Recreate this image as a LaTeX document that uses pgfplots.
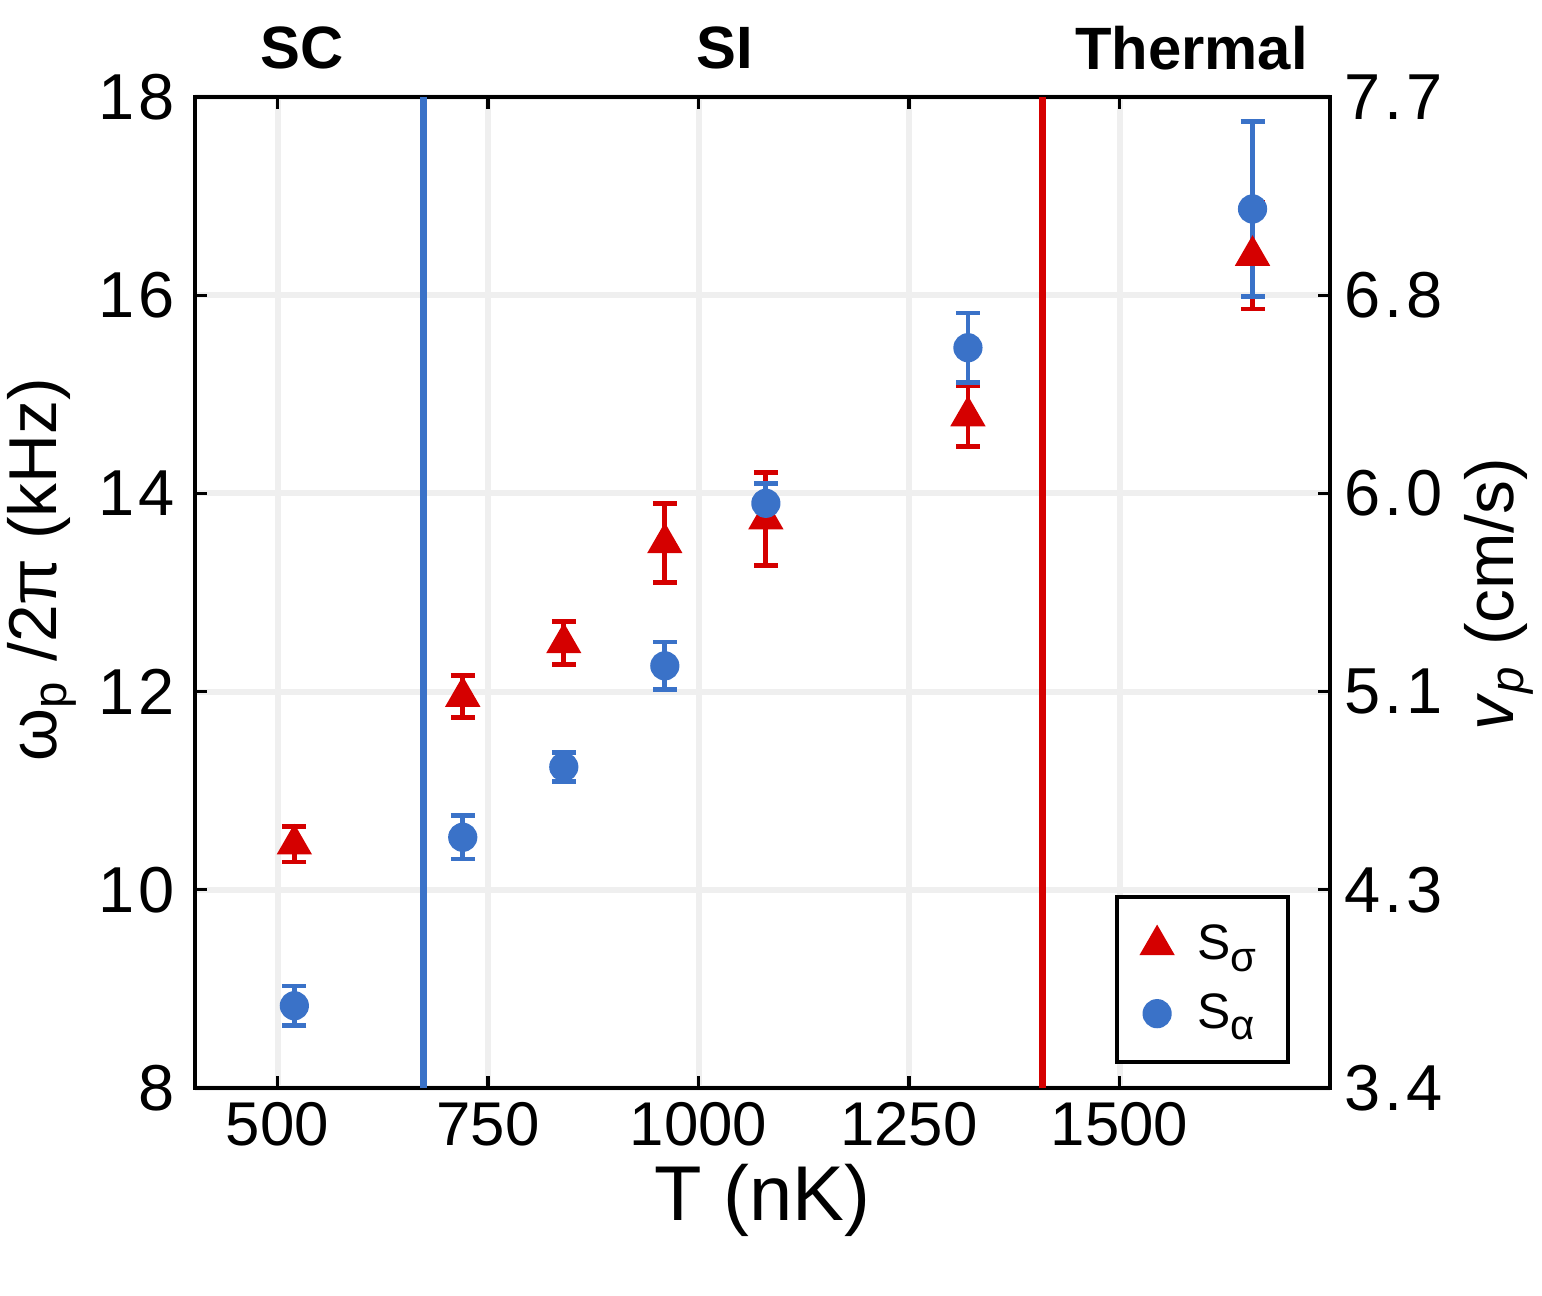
\documentclass[border=0pt]{standalone}
\usepackage{fontspec}
\setmainfont{Liberation Sans}
\usepackage{pgfplots}
\pgfplotsset{compat=1.18}
\definecolor{myred}{HTML}{D50000}
\definecolor{myblue}{HTML}{3A72C8}
\definecolor{gridgray}{HTML}{EFEFEF}
\newcommand{\lsub}[1]{\raisebox{-0.45ex}{\fontsize{10.5}{12}\selectfont #1}}

\pgfplotstableread{
x y e
520 10.46 0.18
720 11.95 0.21
840 12.49 0.22
960 13.50 0.40
1080 13.74 0.47
1320 14.78 0.31
1658 16.40 0.54
}\redtable
\pgfplotstableread{
x y e
520 8.83 0.20
720 10.53 0.22
840 11.24 0.145
960 12.26 0.24
1080 13.90 0.20
1320 15.47 0.35
1658 16.87 0.88
}\bluetable

\begin{document}
\begin{tikzpicture}
\pgfplotsset{
  common/.style={
    scale only axis, width=283.75bp, height=247.75bp,
    xmin=402, xmax=1750, ymin=8, ymax=18,
    tick align=inside, major tick length=3bp,
    tick style={black, line width=0.8bp},
    axis line style={line width=1.2bp},
    xticklabel style={font=\fontsize{15.5}{18}\selectfont},
    yticklabel style={font=\fontsize{16.3}{19}\selectfont\addfontfeature{LetterSpace=6}},
    ytick={8,10,12,14,16,18},
  }
}
\begin{axis}[
  common, name=ax,
  xtick={500,750,1000,1250,1500}, xticklabels={500,750,1000,1250,1500},
  yticklabels={8,10,12,14,16,18},
  yticklabel style={xshift=-1.5bp},
  xtick pos=both, ytick pos=left,
  grid=major, grid style={gridgray, line width=1.5bp},
  xlabel={T (nK)},
  xlabel style={font=\fontsize{19.5}{22}\selectfont, at={(axis description cs:0.5,-0.113)}, anchor=center},
  ylabel={ω\textsubscript{p} /2π (kHz)},
  ylabel style={font=\fontsize{17}{20}\selectfont, at={(axis description cs:-0.135,0.523)}, anchor=center},
  legend style={at={(axis description cs:0.9648,0.0242)}, anchor=south east,
    draw=black, line width=1bp, fill=white,
    font=\fontsize{12.5}{15}\selectfont,
    inner xsep=6bp, inner ysep=5bp, row sep=3bp, column sep=4bp},
  legend cell align=left,
  clip=false,
]
\addplot[myblue, line width=1.75bp, forget plot] coordinates {(673,8) (673,18)};
\addplot[myred, line width=1.75bp, forget plot] coordinates {(1409,8) (1409,18)};

\addplot[only marks, mark=triangle*, mark size=4.6bp, color=myred,
  mark options={myred, line width=0.5bp},
  error bars/.cd, y dir=both, y explicit,
  error bar style={line width=1.2bp, myred},
  error mark options={line width=1.2bp, mark size=3bp, myred, rotate=90}]
  table[x=x, y=y, y error=e] {\redtable};
\addlegendentry{S\lsub{σ}}

\addplot[only marks, mark=*, mark size=3.4bp, color=myblue,
  mark options={myblue, line width=0.5bp},
  error bars/.cd, y dir=both, y explicit,
  error bar style={line width=1.2bp, myblue},
  error mark options={line width=1.2bp, mark size=3bp, myblue, rotate=90}]
  table[x=x, y=y, y error=e] {\bluetable};
\addlegendentry{S\lsub{α}}

\node[font=\bfseries\fontsize{15}{18}\selectfont, anchor=center] at (axis description cs:0.0943,1.0494) {SC};
\node[font=\bfseries\fontsize{15}{18}\selectfont, anchor=center] at (axis description cs:0.467,1.0494) {SI};
\node[font=\bfseries\fontsize{15}{18}\selectfont, anchor=center] at (axis description cs:0.878,1.0494) {Thermal};
\end{axis}
\begin{axis}[
  common,
  hide x axis, axis y line*=right,
  yticklabels={3.4,4.3,5.1,6.0,6.8,7.7},
  ylabel={\textit{v}\textsubscript{\textit{p}} (cm/s)},
  ylabel style={font=\fontsize{17}{20}\selectfont, at={(axis description cs:1.149,0.4985)}, anchor=center},
]
\end{axis}
\pgfresetboundingbox
\path[use as bounding box] ([xshift=-48.75bp,yshift=-52bp]ax.south west) rectangle ([xshift=53bp,yshift=24.25bp]ax.north east);
\end{tikzpicture}
\end{document}
